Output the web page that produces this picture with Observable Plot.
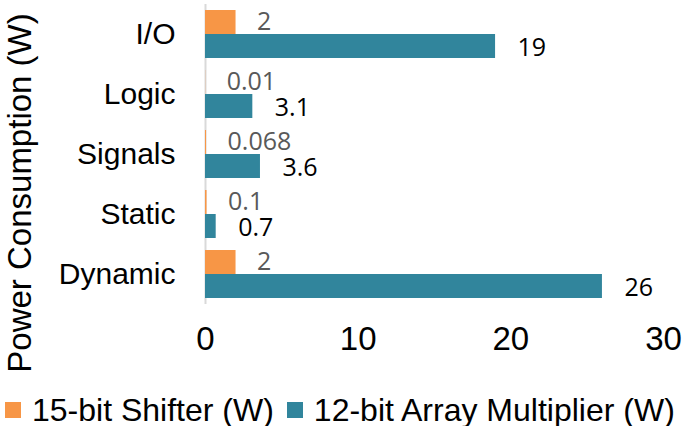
<!DOCTYPE html>
<html>
<head>
<meta charset="utf-8">
<script src="https://cdn.jsdelivr.net/npm/d3@7"></script>
<script src="https://cdn.jsdelivr.net/npm/@observablehq/plot@0.6"></script>
<style>
  html, body { margin: 0; padding: 0; background: #fff; }
  #chart { width: 685px; }
  .legend { display: flex; align-items: center; padding: 24px 0 0 5px; font-family: "Liberation Sans", Arial, sans-serif; font-size: 32px; line-height: 32px; color: #000; white-space: nowrap; }
  .legend .sw { width: 16px; height: 16px; display: inline-block; margin-right: 11px; flex: none; }
  .legend .item { display: flex; align-items: center; margin-right: 13px; }
</style>
</head>
<body>
<div id="chart"></div>
<script>
const categories = ["I/O", "Logic", "Signals", "Static", "Dynamic"];
const shifter = [2, 0.01, 0.068, 0.1, 2];
const multiplier = [19, 3.1, 3.6, 0.7, 26];
const seriesNames = ["15-bit Shifter (W)", "12-bit Array Multiplier (W)"];
const colors = ["#F79646", "#31859C"];
const xTicks = [0, 10, 20, 30];
const yTitle = "Power Consumption (W)";

const rowsA = categories.map((c, i) => ({category: c, value: shifter[i], series: seriesNames[0]}));
const rowsB = categories.map((c, i) => ({category: c, value: multiplier[i], series: seriesNames[1]}));

const chart = Plot.plot({
  width: 685,
  height: 370,
  marginLeft: 205,
  marginRight: 22,
  marginTop: 4,
  marginBottom: 66,
  style: {fontFamily: "'Liberation Sans', Arial, sans-serif", color: "#000", background: "#fff", overflow: "visible"},
  x: {domain: [0, 30], label: null},
  y: {domain: categories, paddingInner: 0.2, paddingOuter: 0.1, label: null},
  marks: [
    Plot.ruleX([0], {stroke: "#d9d9d9", strokeWidth: 2}),
    Plot.barX(rowsA, {x: "value", y: "category", fill: colors[0], insetBottom: 24}),
    Plot.barX(rowsB, {x: "value", y: "category", fill: colors[1], insetTop: 24}),
    Plot.text(rowsA, {x: "value", y: "category", text: d => String(d.value), dx: 21, dy: -13, textAnchor: "start", fill: "#595959", fontSize: 25, fontFamily: "'Open Sans', sans-serif"}),
    Plot.text(rowsB, {x: "value", y: "category", text: d => String(d.value), dx: 22, dy: 13, textAnchor: "start", fill: "#000", fontSize: 25, fontFamily: "'Open Sans', sans-serif"}),
    Plot.axisX({ticks: xTicks, tickSize: 0, tickPadding: 22, fontSize: 33, label: null, fill: "#000"}),
    Plot.axisY({tickSize: 0, tickPadding: 30, fontSize: 30, label: null, fill: "#000"})
  ]
});
document.getElementById("chart").appendChild(chart);

// rotated y-axis title
d3.select(chart).append("text")
  .attr("transform", "translate(19,193) rotate(-90)")
  .attr("text-anchor", "middle")
  .attr("dominant-baseline", "central")
  .attr("font-size", 33)
  .attr("font-family", "'Liberation Sans', Arial, sans-serif")
  .attr("fill", "#000")
  .text(yTitle);

const legend = document.createElement("div");
legend.className = "legend";
seriesNames.forEach((name, i) => {
  const item = document.createElement("span");
  item.className = "item";
  const sw = document.createElement("span");
  sw.className = "sw";
  sw.style.background = colors[i];
  item.appendChild(sw);
  item.appendChild(document.createTextNode(name));
  legend.appendChild(item);
});
document.getElementById("chart").appendChild(legend);
</script>
</body>
</html>
